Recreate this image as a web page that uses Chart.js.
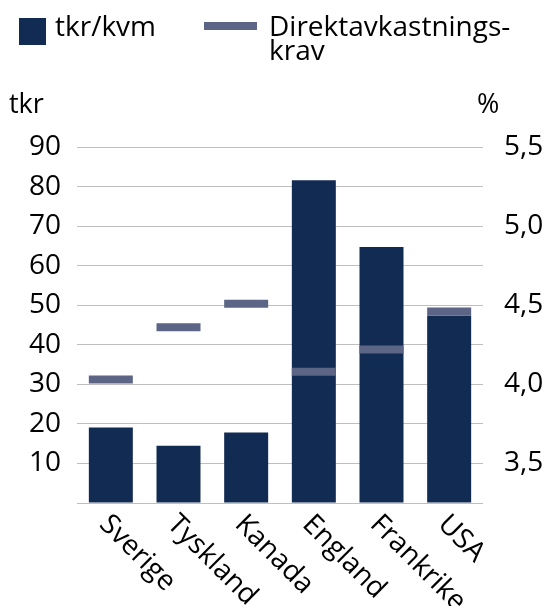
<!DOCTYPE html>
<html>
<head>
<meta charset="utf-8">
<script src="https://cdn.jsdelivr.net/npm/chart.js@4"></script>
<style>
  body { margin: 0; background: #fff; font-family: "Open Sans", sans-serif; }
  #wrap { position: relative; width: 558px; height: 606px; }
  .lg { position: absolute; font-size: 28px; color: #000; line-height: 24px; }
  .ttl { position: absolute; font-size: 27px; color: #000; }
</style>
</head>
<body>
<div id="wrap">
  <canvas id="myChart"></canvas>
  <div style="position:absolute;left:19px;top:18px;width:27px;height:27px;background:#122b52"></div>
  <div class="lg" style="left:55px;top:13px">tkr/kvm</div>
  <div style="position:absolute;left:204px;top:22px;width:53px;height:8px;background:#5c6586"></div>
  <div class="lg" style="left:269px;top:13px">Direktavkastnings-<br>krav</div>
  <div class="ttl" style="left:9px;top:84px">tkr</div>
  <div class="ttl" style="left:477px;top:84px">%</div>
</div>
<script>
// kategorier och serier
const countries = ['Sverige', 'Tyskland', 'Kanada', 'England', 'Frankrike', 'USA'];
const tkrPerKvm = [19.1, 14.5, 17.8, 81.6, 64.7, 47.4];
const yieldReq = [4.03, 4.36, 4.51, 4.08, 4.22, 4.46];
const rightTicks = [3.5, 4.0, 4.5, 5.0, 5.5];

const fontFamily = '"Open Sans", sans-serif';

// roterade kategorietiketter (nedåt åt höger)
const xLabels = {
    id: 'xLabels',
    afterDraw(chart) {
        const ctx = chart.ctx;
        const xs = chart.scales.x;
        ctx.save();
        ctx.font = '28px ' + fontFamily;
        ctx.fillStyle = '#000';
        ctx.textAlign = 'left';
        ctx.textBaseline = 'top';
        countries.forEach((c, i) => {
            const px = xs.getPixelForTick(i);
            ctx.save();
            ctx.translate(px + 3, 510);
            ctx.rotate(Math.PI / 4);
            ctx.fillText(c, 0, 0);
            ctx.restore();
        });
        ctx.restore();
    }
};

const ctx = document.getElementById('myChart').getContext('2d');
const myChart = new Chart(ctx, {
    type: 'bar',
    data: {
        labels: countries,
        datasets: [
            {
                type: 'line',
                label: 'Direktavkastningskrav',
                data: yieldReq,
                yAxisID: 'y1',
                showLine: false,
                pointStyle: 'line',
                pointRadius: 22,
                pointHoverRadius: 22,
                pointBorderWidth: 8,
                pointHoverBorderWidth: 8,
                borderColor: '#5c6586',
                backgroundColor: '#5c6586',
                order: 0
            },
            {
                label: 'tkr/kvm',
                data: tkrPerKvm,
                yAxisID: 'y',
                backgroundColor: '#122b52',
                barPercentage: 0.65,
                categoryPercentage: 1,
                order: 1
            }
        ]
    },
    options: {
        responsive: true,
        maintainAspectRatio: false,
        animation: false,
        layout: { padding: { top: 147, left: 0, right: 0, bottom: 0 } },
        plugins: {
            legend: { display: false },
            tooltip: { enabled: false }
        },
        scales: {
            x: {
                grid: { display: false },
                border: { display: false },
                ticks: { display: false },
                afterFit(s) { s.height = 103; }
            },
            y: {
                position: 'left',
                min: 0,
                max: 90,
                ticks: {
                    stepSize: 10,
                    color: '#000',
                    padding: 16,
                    font: { family: fontFamily, size: 28 },
                    callback: v => v === 0 ? '' : v
                },
                grid: { color: '#bfbfbf', drawTicks: false },
                border: { display: false },
                afterFit(s) { s.width = 77; }
            },
            y1: {
                position: 'right',
                min: 3.25,
                max: 5.5,
                afterBuildTicks(s) { s.ticks = rightTicks.map(v => ({ value: v })); },
                ticks: {
                    color: '#000',
                    padding: 21,
                    font: { family: fontFamily, size: 28 },
                    callback: v => v.toFixed(1).replace('.', ',')
                },
                grid: { display: false, drawTicks: false },
                border: { display: false },
                afterFit(s) { s.width = 75; }
            }
        }
    },
    plugins: [xLabels]
});
</script>
</body>
</html>
